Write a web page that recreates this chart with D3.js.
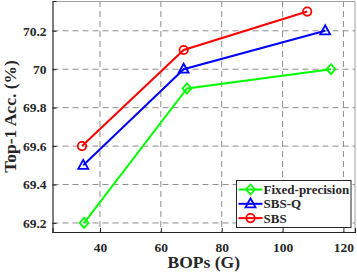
<!DOCTYPE html>
<html>
<head>
<meta charset="utf-8">
<script src="https://cdn.jsdelivr.net/npm/d3@7"></script>
<style>
  body { margin: 0; background: #fff; }
</style>
</head>
<body>
<div class="chart"></div>
<script>
var seriesNames = ["Fixed-precision", "SBS-Q", "SBS"];
var seriesColors = ["#00ff00", "#0000ff", "#ff0000"];
var seriesMarkers = ["diamond", "triangle", "circle"];
var fixedBops = [34.8, 68.6, 115.9];
var fixedAcc = [69.2, 69.9, 70.0];
var sbsqBops = [34.5, 67.5, 114.0];
var sbsqAcc = [69.5, 70.0, 70.2];
var sbsBops = [34.1, 67.5, 108.1];
var sbsAcc = [69.6, 70.1, 70.3];
var xTicks = [40, 60, 80, 100, 120];
var yTicks = [69.2, 69.4, 69.6, 69.8, 70, 70.2];

var FONT = "'Liberation Serif', 'Times New Roman', Times, serif";
var W = 357, H = 276;
var margin = { top: 1, right: 2, bottom: 44, left: 52.5 };
var width = W - margin.left - margin.right,
    height = H - margin.top - margin.bottom;

var svg = d3.select(".chart").append("svg")
  .attr("width", W).attr("height", H);
var g = svg.append("g")
  .attr("transform", "translate(" + margin.left + "," + margin.top + ")");

var x = d3.scaleLinear().domain([24.4, 123.8]).range([0, width]);
var y = d3.scaleLinear().domain([69.153, 70.355]).range([height, 0]);

// grid
g.selectAll(".gx").data(xTicks).enter().append("line")
  .attr("x1", d => x(d)).attr("x2", d => x(d))
  .attr("y1", 0).attr("y2", height)
  .attr("stroke", "#8c8c8c").attr("stroke-width", 1).attr("stroke-dasharray", "6,4");
g.selectAll(".gy").data(yTicks).enter().append("line")
  .attr("y1", d => y(d)).attr("y2", d => y(d))
  .attr("x1", 0).attr("x2", width)
  .attr("stroke", "#8c8c8c").attr("stroke-width", 1).attr("stroke-dasharray", "6,4");

// box top/right
g.append("path")
  .attr("d", "M0,0.5H" + width + "V" + height)
  .attr("fill", "none").attr("stroke", "#a0a0a0").attr("stroke-width", 1);

var xAxis = g.append("g")
  .attr("transform", "translate(0," + height + ")")
  .call(d3.axisBottom(x).tickValues(xTicks).tickSize(-4).tickPadding(9));
var yAxis = g.append("g")
  .call(d3.axisLeft(y).tickValues(yTicks).tickSize(-4).tickPadding(6).tickFormat(d3.format("")));
[xAxis, yAxis].forEach(function(a) {
  a.attr("font-family", null).attr("font-size", null);
  a.select(".domain").attr("stroke", "#262626").attr("stroke-width", 1.2);
  a.selectAll(".tick line").attr("stroke", "#262626");
  a.selectAll("text")
    .style("font-family", FONT).style("font-weight", "bold")
    .style("font-size", "13.5px").attr("fill", "#262626");
});
xAxis.selectAll("text").attr("dy", "0.85em");

// axis titles
svg.append("text")
  .attr("x", margin.left + width / 2).attr("y", 268)
  .attr("text-anchor", "middle")
  .style("font-family", FONT).style("font-weight", "bold").style("font-size", "17.5px")
  .attr("fill", "#262626")
  .text("BOPs (G)");
svg.append("text")
  .attr("transform", "translate(15.5," + (margin.top + height / 2) + ") rotate(-90)")
  .attr("text-anchor", "middle")
  .style("font-family", FONT).style("font-weight", "bold").style("font-size", "17.5px")
  .attr("fill", "#262626")
  .text("Top-1 Acc. (%)");

var series = [
  { bops: fixedBops, acc: fixedAcc },
  { bops: sbsqBops, acc: sbsqAcc },
  { bops: sbsBops, acc: sbsAcc }
];

function marker(sel, type, color) {
  if (type === "circle") {
    sel.append("circle").attr("r", 4.2)
      .attr("fill", "none").attr("stroke", color).attr("stroke-width", 1.8);
  } else if (type === "diamond") {
    sel.append("path").attr("d", "M0,-5L4.5,0L0,5L-4.5,0Z")
      .attr("fill", "none").attr("stroke", color).attr("stroke-width", 1.8);
  } else {
    sel.append("path").attr("d", "M0,-5.5L5,3.5L-5,3.5Z")
      .attr("fill", "none").attr("stroke", color).attr("stroke-width", 1.8);
  }
}

var line = d3.line().x(d => x(d[0])).y(d => y(d[1]));
series.forEach(function(s, i) {
  var pts = s.bops.map((b, j) => [b, s.acc[j]]);
  g.append("path").datum(pts)
    .attr("d", line).attr("fill", "none")
    .attr("stroke", seriesColors[i]).attr("stroke-width", 2);
  pts.forEach(function(p) {
    var m = g.append("g").attr("transform", "translate(" + x(p[0]) + "," + y(p[1]) + ")");
    marker(m, seriesMarkers[i], seriesColors[i]);
  });
});

// legend
var lg = svg.append("g").attr("transform", "translate(236.5,180.5)");
lg.append("rect").attr("width", 114.5).attr("height", 47)
  .attr("fill", "#fff").attr("stroke", "#262626").attr("stroke-width", 1);
seriesNames.forEach(function(name, i) {
  var row = lg.append("g").attr("transform", "translate(0," + (9 + i * 14.3) + ")");
  row.append("line").attr("x1", 2).attr("x2", 26)
    .attr("stroke", seriesColors[i]).attr("stroke-width", 2);
  var m = row.append("g").attr("transform", "translate(14,0)");
  marker(m, seriesMarkers[i], seriesColors[i]);
  row.append("text").attr("x", 27).attr("dy", "0.35em")
    .style("font-family", FONT).style("font-weight", "bold").style("font-size", "13px")
    .attr("fill", "#262626")
    .text(name);
});
</script>
</body>
</html>
